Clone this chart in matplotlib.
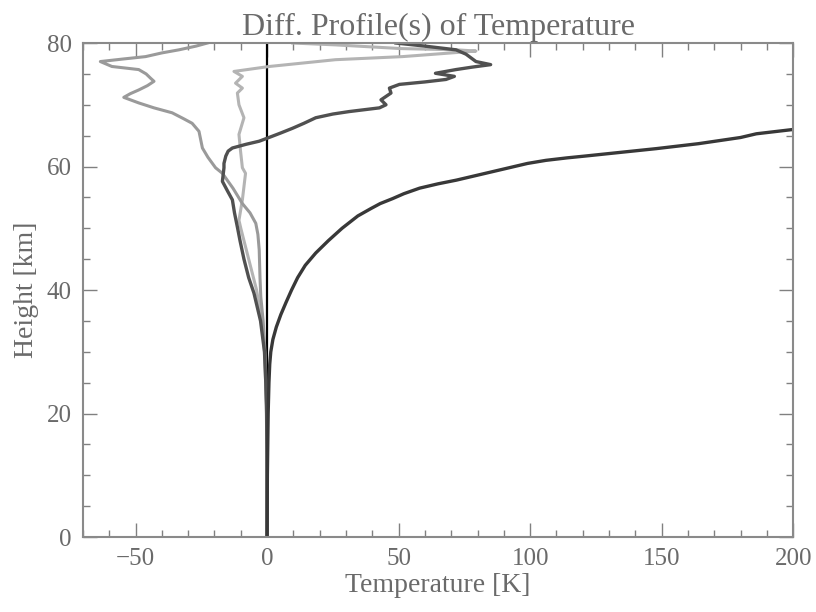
import matplotlib
matplotlib.use("Agg")
import matplotlib.pyplot as plt
from matplotlib.ticker import MultipleLocator

# profile 1 (darkest): height [km], temperature diff [K]
h1 = [0, 10, 20, 25, 28, 30, 32, 34, 36, 38, 40, 42, 44, 46, 48, 50, 52, 53.2, 54,
      54.8, 55.6, 56.5, 57.2, 57.8, 58.5, 59.2, 59.9, 60.5, 61, 61.4, 61.7, 62.1, 62.5,
      62.9, 63.3, 63.7, 64.2, 64.7, 65.3, 66.0]
t1 = [0, 0.1, 0.4, 0.7, 1.0, 1.4, 2.2, 3.5, 5.2, 7.2, 9.3, 11.6, 14.5, 18.5, 23.3, 28.5,
      34.5, 39.5, 43, 47.7, 52, 58, 65, 72, 79, 86, 93, 99, 106, 114, 121, 130, 139, 148,
      156, 164, 172, 180, 186, 200]

# profile 2 (dark)
h2 = [0, 10, 20, 25, 30, 35, 39.5, 42, 45, 48, 50.2, 52.5, 54.6, 56, 57.6, 59.8, 60.5,
      61.7, 62.5, 63.0, 63.6, 64.1, 64.6, 65.4, 66.2, 67.0, 67.9, 68.5, 68.9, 69.5, 70.0,
      70.8, 71.9, 72.7, 73.3, 73.7, 74.1, 74.6, 75.1, 75.7, 76.1, 76.5, 77.0, 78.2, 78.9,
      79.5, 80]
t2 = [0, 0, -0.2, -0.5, -1, -2.5, -5, -7, -8.8, -10.3, -11.3, -12.4, -13.2, -15, -17,
      -16.4, -16.4, -15.7, -14.8, -13.2, -8, -3, 0.1, 5, 9.7, 14, 18.5, 25, 31.2, 42.7,
      45.2, 43.3, 47.1, 46.5, 50.3, 60, 68, 71.2, 64, 71.8, 78, 85, 79.4, 75.6, 71.8, 60, 49]

# profile 3 (medium grey)
h3 = [0, 20, 30, 35, 38.9, 42, 46.5, 49, 50.8, 52.5, 54, 56.5, 58.9, 59.8, 61.5, 63.0,
      65.7, 67.0, 67.8, 68.7, 69.5, 70.3, 71.2, 71.8, 72.4, 73.1, 73.8, 74.3, 75.0, 75.7,
      76.2, 77.0, 77.4, 77.8, 78.4, 78.9, 79.5, 80]
t3 = [0, -0.1, -0.8, -1.5, -2.4, -2.7, -3, -3.5, -4.3, -6.5, -9.4, -13, -17, -19.6, -22.5,
      -24.6, -25.9, -28.5, -32, -36.1, -43, -48.8, -54.5, -52, -48.8, -45.5, -43, -44.3,
      -46, -48.8, -59, -63.4, -55, -46.2, -40, -33.5, -27, -22.7]

# profile 4 (light grey)
h4 = [0, 20, 30, 35, 40, 45, 50, 51.3, 54.6, 58.9, 59.8, 62.5, 65.2, 67.9, 70.0, 71.9,
      72.7, 73.5, 74.6, 75.4, 76.2, 77.3, 77.8, 78.7, 78.9, 79.1, 79.7, 80]
t4 = [0, -0.1, -1, -2, -4, -7, -10, -10.7, -9.4, -8.2, -9.4, -10.1, -10.7, -8.8, -10.7,
      -11.3, -9.4, -12, -9.4, -12.6, 0.8, 26, 51.5, 79.4, 72, 51, 26, 9.7]

txt = '#6a6a6a'
plt.rcParams['font.family'] = ['Liberation Serif', 'DejaVu Serif']
plt.rcParams['font.size'] = 18

fig = plt.figure(figsize=(8.16, 6.12), dpi=100)
ax = fig.add_axes([0.1017, 0.1225, 0.8703, 0.8072])

ax.axvline(0, color='black', lw=1.6)
ax.plot(t4, h4, color='#b4b4b4', lw=2.2)
ax.plot(t3, h3, color='#9a9a9a', lw=2.2)
ax.plot(t2, h2, color='#505050', lw=2.4)
ax.plot(t1, h1, color='#383838', lw=2.4)

ax.set_xlim(-70, 200)
ax.set_ylim(0, 80)
ax.xaxis.set_major_locator(MultipleLocator(50))
ax.xaxis.set_minor_locator(MultipleLocator(10))
ax.yaxis.set_major_locator(MultipleLocator(20))
ax.yaxis.set_minor_locator(MultipleLocator(5))
ax.tick_params(which='both', direction='in', top=True, right=True,
               colors='#808080', labelcolor=txt, width=1)
ax.tick_params(which='major', length=10, pad=8)
ax.tick_params(which='minor', length=5)
for s in ax.spines.values():
    s.set_color('#8a8a8a')
    s.set_linewidth(1.5)

ax.set_xlabel('Temperature [K]', color=txt, fontsize=20, labelpad=2)
ax.set_ylabel('Height [km]', color=txt, fontsize=20, labelpad=6)
ax.set_title('Diff. Profile(s) of Temperature', color=txt, fontsize=23, pad=6)

fig.savefig('out.png', dpi=100)
